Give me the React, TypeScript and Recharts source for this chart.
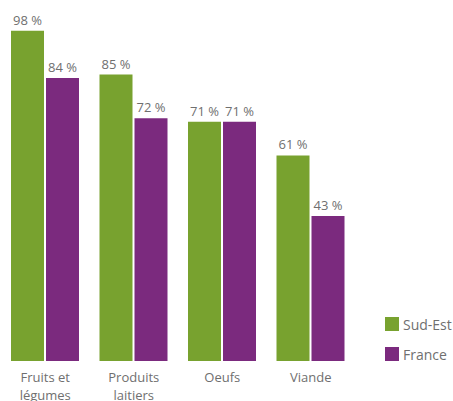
import { BarChart, Bar, XAxis, YAxis, LabelList } from 'recharts';

const categories = ['Fruits et légumes', 'Produits laitiers', 'Oeufs', 'Viande'];
const sudEst = [98, 85, 71, 61];
const france = [84, 72, 71, 43];

const GREEN = '#78a22f';
const PURPLE = '#7b2a7e';
const TEXT = '#6f6f6f';
const FONT = '"Open Sans", sans-serif';

const data = categories.map((c, i) => ({ name: c, sudEst: sudEst[i], france: france[i] }));

function wrap(label: string, maxChars: number): string[] {
  const lines: string[] = [];
  let cur = '';
  label.split(' ').forEach(w => {
    const next = cur ? `${cur} ${w}` : w;
    if (next.length > maxChars && cur) {
      lines.push(cur);
      cur = w;
    } else {
      cur = next;
    }
  });
  if (cur) lines.push(cur);
  return lines;
}

const CategoryTick = ({ x, y, payload }: { x?: number; y?: number; payload?: { value: string } }) => {
  const lines = wrap(payload?.value ?? '', 9);
  return (
    <text x={x} y={y} textAnchor="middle" fill={TEXT} fontSize={13} fontFamily={FONT}>
      {lines.map((l, i) => (
        <tspan key={i} x={x} dy={i === 0 ? 13 : 18}>{l}</tspan>
      ))}
    </text>
  );
};

const ValueLabel = (props: { x?: number; y?: number; width?: number; value?: number }) => {
  const { x = 0, y = 0, width = 0, value } = props;
  return (
    <text x={x + width / 2} y={y - 6} textAnchor="middle" fill={TEXT} fontSize={13} fontFamily={FONT}>
      {`${value} %`}
    </text>
  );
};

const legendItems = [
  { label: 'Sud-Est', color: GREEN },
  { label: 'France', color: PURPLE },
];

export default function App() {
  return (
    <div style={{ position: 'absolute', left: 0, top: 0, width: 453, height: 401, background: '#fff' }}>
      <BarChart
        width={453}
        height={401}
        data={data}
        margin={{ top: 24, right: 98, left: 1, bottom: 0 }}
        barCategoryGap={10}
        barGap={2}
      >
        <XAxis dataKey="name" axisLine={false} tickLine={false} height={40} tick={<CategoryTick />} interval={0} />
        <YAxis hide domain={[0, 100]} />
        <Bar dataKey="sudEst" fill={GREEN} barSize={33} isAnimationActive={false}>
          <LabelList dataKey="sudEst" content={<ValueLabel />} />
        </Bar>
        <Bar dataKey="france" fill={PURPLE} barSize={33} isAnimationActive={false}>
          <LabelList dataKey="france" content={<ValueLabel />} />
        </Bar>
      </BarChart>
      <div style={{ position: 'absolute', left: 385, top: 309, fontFamily: FONT, fontSize: 14, color: TEXT }}>
        {legendItems.map(item => (
          <div key={item.label} style={{ display: 'flex', alignItems: 'center', height: 30 }}>
            <span style={{ width: 14, height: 14, background: item.color, marginRight: 4, display: 'inline-block' }} />
            <span>{item.label}</span>
          </div>
        ))}
      </div>
    </div>
  );
}
